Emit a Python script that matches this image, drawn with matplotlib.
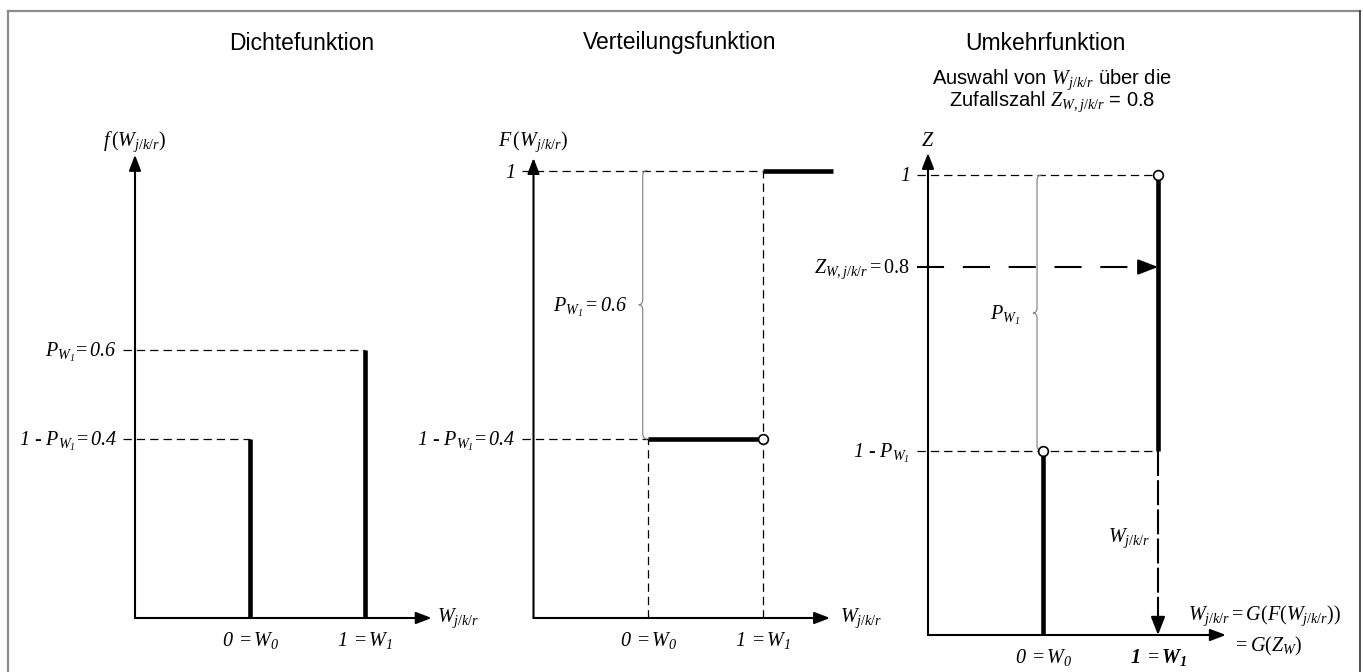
import matplotlib
matplotlib.use("Agg")
import matplotlib.pyplot as plt
from matplotlib.path import Path
from matplotlib.patches import PathPatch
from matplotlib.lines import Line2D

plt.rcParams.update({
    'mathtext.fontset': 'custom',
    'mathtext.rm': 'Liberation Serif',
    'mathtext.it': 'Liberation Serif:italic',
    'mathtext.sf': 'Liberation Serif:italic',   # used for italic digits
    'mathtext.bf': 'Liberation Serif:bold',
    'mathtext.bfit': 'Liberation Serif:italic:bold',
    'lines.scale_dashes': False,
    'font.family': ['Liberation Sans', 'DejaVu Sans'],
})

# ---------------- data ----------------
w_values = [0, 1]                 # W_0, W_1
density = [0.4, 0.6]              # f(W)
cdf_values = [0.4, 1.0]           # F(W)
z_random = 0.8                    # random number Z
panel_titles = ["Dichtefunktion", "Verteilungsfunktion", "Umkehrfunktion"]
tick_labels = [r"$\mathsf{0}\;= W_{\mathsf{0}}$", r"$\mathsf{1}\;= W_{\mathsf{1}}$"]
tick_labels_p3 = [r"$\mathsf{0}\;= W_{\mathsf{0}}$", r"$\mathbfit{1}\;= \mathbfit{W}_{\mathbfit{1}}$"]
density_labels = [r"$\mathsf{1}$ - $P_{W_{\mathsf{1}}}\!= \mathsf{0.4}$",
                  r"$P_{W_{\mathsf{1}}}\!= \mathsf{0.6}$"]
cdf_labels = [r"$\mathsf{1}$ - $P_{W_{\mathsf{1}}}\!= \mathsf{0.4}$", r"$\mathsf{1}$"]
inv_labels = [r"$\mathsf{1}$ - $P_{W_{\mathsf{1}}}$", r"$\mathsf{1}$"]

W_PX, H_PX, DPI = 1363, 672, 100
fig = plt.figure(figsize=(W_PX / DPI, H_PX / DPI), dpi=DPI)

SERIF = dict(fontfamily='Liberation Serif', fontstyle='italic', fontsize=14.5)


def make_ax(x0, sx, y0, sy):
    ax = fig.add_axes([0, 0, 1, 1])
    ax.set_xlim(-x0 / sx, (W_PX - x0) / sx)
    ax.set_ylim((y0 - H_PX) / sy, y0 / sy)
    ax.axis('off')
    ax.patch.set_alpha(0)
    return ax


def arrow(ax, start, tip, hl=0.94, hw=0.36, lw=1.5):
    ax.annotate('', xy=tip, xytext=start,
                arrowprops=dict(arrowstyle=f'-|>,head_length={hl},head_width={hw}',
                                lw=lw, color='k', shrinkA=0, shrinkB=0,
                                mutation_scale=10))


def axes_arrows(ax, xend, ytop):
    arrow(ax, (-1, 0), (xend, 0))
    arrow(ax, (-1, 0), (-1, ytop))


def dashed(ax, xs, ys):
    ax.plot(xs, ys, color='k', lw=0.9, dashes=(6, 3.6), zorder=2)


def thick(ax, xs, ys):
    ax.plot(xs, ys, color='k', lw=3.3, solid_capstyle='butt', zorder=3)


def circle(ax, x, y):
    ax.plot([x], [y], marker='o', ms=7, mfc='white', mec='k', mew=1.2, zorder=5)


def brace(ax, xr, y0, y1, width=0.04, tip=0.035, r=0.012):
    xv = xr - width
    ym = (y0 + y1) / 2
    verts = [(xr, y1), (xv, y1), (xv, y1 - r),
             (xv, ym + r), (xv, ym), (xv - tip, ym),
             (xv, ym), (xv, ym - r),
             (xv, y0 + r), (xv, y0), (xr, y0)]
    codes = [Path.MOVETO, Path.CURVE3, Path.CURVE3,
             Path.LINETO, Path.CURVE3, Path.CURVE3,
             Path.CURVE3, Path.CURVE3,
             Path.LINETO, Path.CURVE3, Path.CURVE3]
    ax.add_patch(PathPatch(Path(verts, codes), fill=False, ec='#8a8a8a', lw=0.9, zorder=2))


def left_label(ax, y, s, dy=-0.016):
    ax.text(-1.16, y + dy, s, ha='right', va='baseline', **SERIF)


# ---------------- Panel 1: Dichtefunktion ----------------
ax1 = make_ax(250, 115, 618, 447.5)
axes_arrows(ax1, 1.58, 1.035)
for x, d, lab in zip(w_values, density, density_labels):
    dashed(ax1, [-1.1, x], [d, d])
    thick(ax1, [x, x], [0, d])
    left_label(ax1, d, lab)
for x, lab in zip(w_values, tick_labels):
    ax1.text(x, -0.063, lab, ha='center', va='baseline', **SERIF)
ax1.text(-1, 1.064, r"$f\,(W_{j/k/r})$", ha='center', va='center', **SERIF)
ax1.text(1.63, -0.01, r"$W_{j/k/r}$", ha='left', va='baseline', **SERIF)

# ---------------- Panel 2: Verteilungsfunktion ----------------
ax2 = make_ax(648, 114.5, 618, 447.5)
axes_arrows(ax2, 1.59, 1.028)
dashed(ax2, [-1.1, w_values[0]], [cdf_values[0]] * 2)
dashed(ax2, [-1.1, w_values[1]], [cdf_values[1]] * 2)
dashed(ax2, [w_values[0]] * 2, [0, cdf_values[0]])
dashed(ax2, [w_values[1]] * 2, [0, cdf_values[1]])
thick(ax2, [w_values[0], w_values[1]], [cdf_values[0]] * 2)
thick(ax2, [w_values[1], 1.62], [cdf_values[1]] * 2)
circle(ax2, w_values[1], cdf_values[0])
for y, lab in zip(cdf_values, cdf_labels):
    left_label(ax2, y, lab)
brace(ax2, w_values[0] - 0.006, cdf_values[0], cdf_values[1])
ax2.text(-0.18, (cdf_values[0] + cdf_values[1]) / 2 - 0.016,
         r"$P_{W_{\mathsf{1}}} = \mathsf{0.6}$", ha='right', va='baseline', **SERIF)
for x, lab in zip(w_values, tick_labels):
    ax2.text(x, -0.063, lab, ha='center', va='baseline', **SERIF)
ax2.text(-1, 1.064, r"$F\,(W_{j/k/r})$", ha='center', va='center', **SERIF)
ax2.text(1.68, -0.01, r"$W_{j/k/r}$", ha='left', va='baseline', **SERIF)

# ---------------- Panel 3: Umkehrfunktion ----------------
ax3 = make_ax(1043, 115, 635, 460)
axes_arrows(ax3, 1.59, 1.048)
dashed(ax3, [-1.1, w_values[1]], [cdf_values[1]] * 2)
dashed(ax3, [-1.1, w_values[1]], [cdf_values[0]] * 2)
thick(ax3, [w_values[1]] * 2, [cdf_values[0], cdf_values[1]])
thick(ax3, [w_values[0]] * 2, [0, cdf_values[0]])
brace(ax3, w_values[0] - 0.012, cdf_values[0], cdf_values[1])
circle(ax3, w_values[1], cdf_values[1])
circle(ax3, w_values[0], cdf_values[0])
# random number arrow
ax3.plot([-1.1, w_values[1] - 0.1], [z_random] * 2, color='k', lw=1.5,
         dashes=(19.5, 13.5), zorder=2)
arrow(ax3, (w_values[1] - 0.16, z_random), (w_values[1], z_random), hl=1.22, hw=0.47)
# vertical arrow down to W
ax3.plot([w_values[1]] * 2, [cdf_values[0], 0.03], color='k', lw=1.5,
         dashes=(18, 3), zorder=2)
arrow(ax3, (w_values[1], 0.035), (w_values[1], 0), hl=1.1, hw=0.43)
for y, lab in zip(cdf_values, inv_labels):
    left_label(ax3, y, lab, dy=-0.014)
left_label(ax3, z_random, r"$Z_{W,j/k/r} = 0.8$", dy=-0.012)
ax3.text(-0.2, (cdf_values[0] + cdf_values[1]) / 2 - 0.016,
         r"$P_{W_{\mathsf{1}}}$", ha='right', va='baseline', **SERIF)
ax3.text(0.93, 0.203, r"$W_{j/k/r}$", ha='right', va='baseline', **SERIF)
ax3.text(1.26, 0.033, r"$W_{j/k/r} = G(F(W_{j/k/r}))$", ha='left', va='baseline', **SERIF)
ax3.text(1.65, -0.036, r"$= G(Z_W)$", ha='left', va='baseline', **SERIF)
for x, lab in zip(w_values, tick_labels_p3):
    ax3.text(x, -0.061, lab, ha='center', va='baseline', **SERIF)
ax3.text(-1, 1.072, r"$Z$", ha='center', va='center', **SERIF)

# ---------------- titles ----------------
for xc, t in zip([302, 680, 1045], panel_titles):
    fig.text(xc / W_PX, 1 - 43 / H_PX, t, ha='center', va='center', fontsize=16.5,
             fontfamily=['Liberation Sans', 'DejaVu Sans'])
fig.text(1052 / W_PX, 1 - 80 / H_PX, r"Auswahl von $W_{j/k/r}$ über die",
         ha='center', va='center', fontsize=14.5)
fig.text(1052 / W_PX, 1 - 102 / H_PX, r"Zufallszahl $Z_{W,j/k/r}$ = 0.8",
         ha='center', va='center', fontsize=14.5)

# ---------------- frame ----------------
fx0, fx1, fy0 = 7.5 / W_PX, 1360 / W_PX, 1 - 11 / H_PX
fig.add_artist(Line2D([fx0, fx0], [0, fy0], transform=fig.transFigure, color='#8c8c8c', lw=1.6))
fig.add_artist(Line2D([fx0, fx1], [fy0, fy0], transform=fig.transFigure, color='#8c8c8c', lw=1.6))
fig.add_artist(Line2D([fx1, fx1], [0, fy0], transform=fig.transFigure, color='#333333', lw=1.2))

fig.savefig('out.png', dpi=DPI)
